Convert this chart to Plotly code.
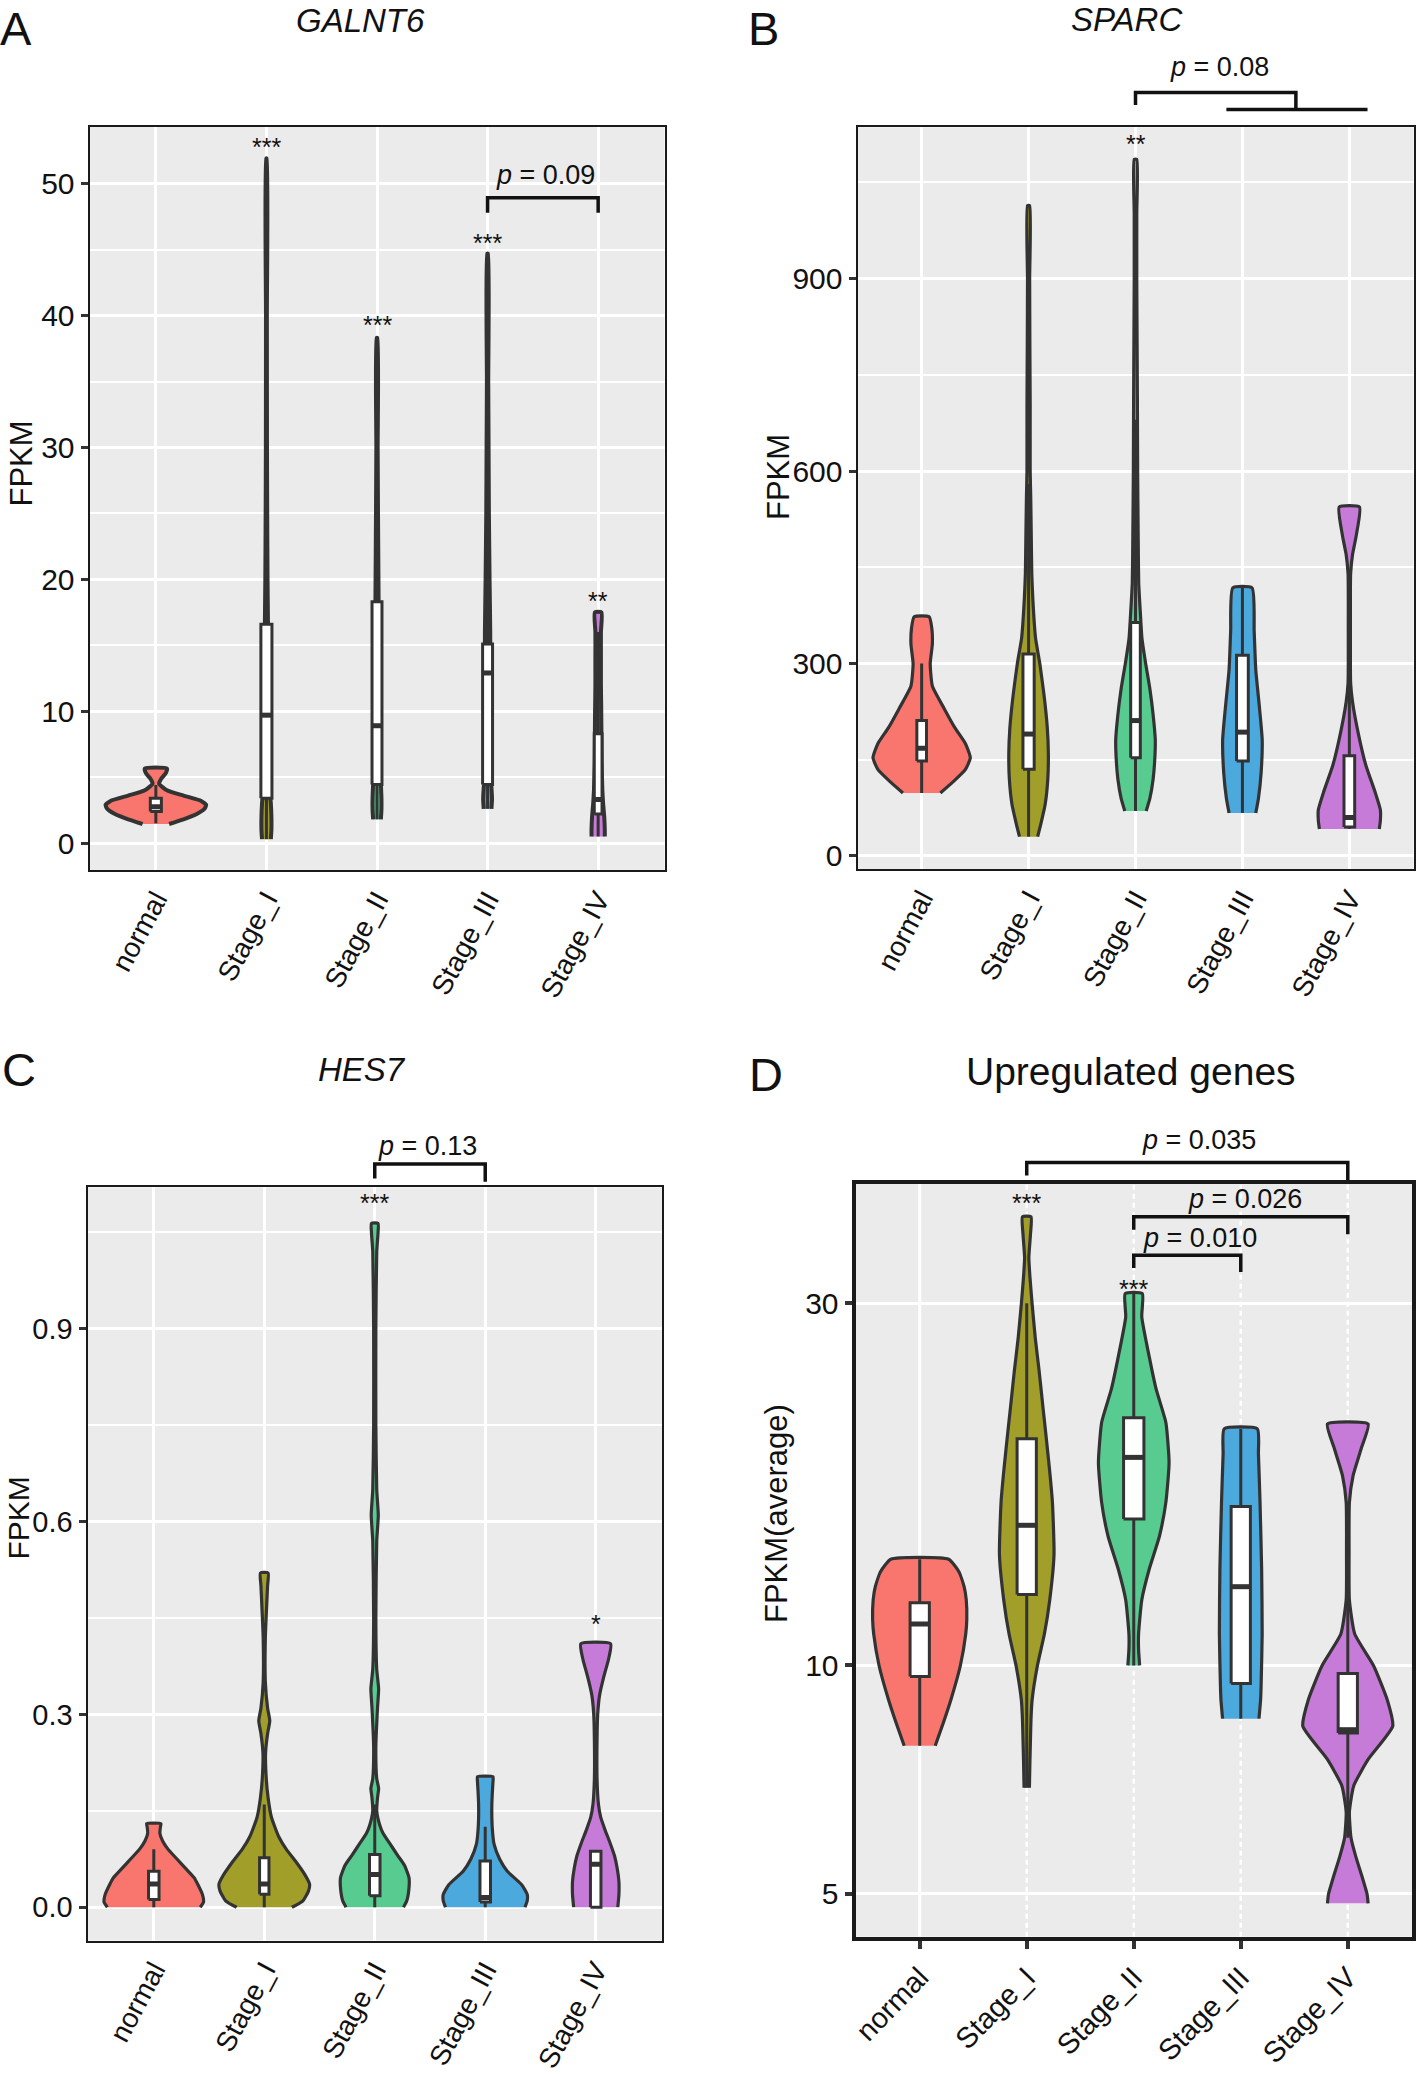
import math
import plotly.graph_objects as go

# ------------------------------------------------------------------ data
CATEGORIES = ["normal", "Stage_I", "Stage_II", "Stage_III", "Stage_IV"]
FILL_COLORS = ["#F8766D", "#A19E2A", "#58CC90", "#4CA9DE", "#C77BD9"]

# A: GALNT6 -- violin outline profiles (value, half-width in category units)
GALNT6_VIOLIN_Y = [
    [1.45, 1.8, 2.2, 2.6, 2.9, 3.2, 3.6, 4.0, 4.5, 4.9, 5.3, 5.66],
    [0.3, 1, 2, 3, 4, 6, 10, 15, 20, 25, 30, 40, 51.9],
    [1.8, 2.5, 3.5, 4.5, 6, 10, 15, 20, 25, 30, 38.3],
    [2.6, 3.3, 4.2, 5, 8, 12, 16, 20, 25, 30, 35, 44.7],
    [0.5, 1, 2, 3, 4, 6, 8, 10, 12, 14, 16, 17.5],
]
GALNT6_VIOLIN_W = [
    [0.12, 0.25, 0.37, 0.44, 0.455, 0.41, 0.25, 0.10, 0.03, 0.05, 0.09, 0.10],
    [0.04, 0.045, 0.045, 0.04, 0.03, 0.025, 0.02, 0.016, 0.01, 0.007, 0.005, 0.004, 0.003],
    [0.035, 0.04, 0.04, 0.035, 0.028, 0.022, 0.017, 0.013, 0.009, 0.006, 0.004],
    [0.035, 0.04, 0.035, 0.028, 0.024, 0.024, 0.024, 0.018, 0.012, 0.009, 0.006, 0.004],
    [0.06, 0.06, 0.055, 0.045, 0.038, 0.032, 0.03, 0.028, 0.025, 0.025, 0.025, 0.03],
]
GALNT6_Q1 = [2.4, 3.4, 4.45, 4.45, 2.2]
GALNT6_MEDIAN = [2.75, 9.7, 8.9, 12.9, 3.3]
GALNT6_Q3 = [3.4, 16.6, 18.3, 15.1, 8.3]
GALNT6_LOW = [1.5, 0.3, 1.8, 2.6, 0.5]
GALNT6_HIGH = [4.4, 36, 32, 30, 16]
GALNT6_BOX_W = [0.10, 0.10, 0.09, 0.09, 0.07]
GALNT6_STARS = [(1, 53.2, "***"), (2, 39.7, "***"), (3, 45.9, "***"), (4, 18.7, "**")]
GALNT6_BRACKETS = [(3, 4, 48.94, 47.8, 47.8, "0.09", 3.52, 50.63)]

# B: SPARC
SPARC_VIOLIN_Y = [
    [98, 115, 135, 153, 175, 200, 230, 265, 300, 330, 355, 373],
    [30, 50, 80, 120, 160, 200, 250, 300, 340, 400, 440, 500, 560, 600, 700, 800, 900, 1014],
    [70, 90, 120, 150, 181, 220, 260, 300, 340, 380, 425, 500, 600, 700, 800, 900, 1000, 1086],
    [67, 90, 130, 181, 230, 290, 350, 418],
    [42, 55, 72, 100, 141, 190, 240, 270, 350, 440, 470, 500, 544],
]
SPARC_VIOLIN_W = [
    [0.175, 0.29, 0.41, 0.455, 0.41, 0.31, 0.21, 0.10, 0.08, 0.10, 0.095, 0.07],
    [0.085, 0.115, 0.155, 0.18, 0.185, 0.175, 0.145, 0.105, 0.065, 0.04, 0.03, 0.025, 0.02, 0.015, 0.015, 0.012, 0.01, 0.01],
    [0.10, 0.135, 0.165, 0.18, 0.185, 0.165, 0.135, 0.095, 0.06, 0.045, 0.03, 0.025, 0.02, 0.018, 0.015, 0.012, 0.012, 0.012],
    [0.125, 0.15, 0.175, 0.185, 0.16, 0.125, 0.11, 0.09],
    [0.28, 0.29, 0.29, 0.24, 0.155, 0.085, 0.03, 0.012, 0.01, 0.012, 0.03, 0.065, 0.095],
]
SPARC_Q1 = [148, 135, 153, 148, 45]
SPARC_MEDIAN = [168, 190, 211, 193, 60]
SPARC_Q3 = [211, 315, 364, 313, 156]
SPARC_LOW = [98, 30, 70, 67, 42]
SPARC_HIGH = [300, 580, 680, 418, 290]
SPARC_BOX_W = [0.09, 0.105, 0.09, 0.11, 0.10]
SPARC_STARS = [(2, 1118, "**")]
SPARC_BRACKETS = [(2, 3.5, 1190.4, 1170.6, 1163.6, "0.08", 2.79, 1230.2)]
SPARC_GROUP_LINE = [(2.85, 4.17, 1163.6)]

# C: HES7
HES7_VIOLIN_Y = [
    [0, 0.008, 0.02, 0.035, 0.046, 0.06, 0.075, 0.09, 0.103, 0.115, 0.125, 0.13],
    [0, 0.01, 0.025, 0.036, 0.05, 0.07, 0.09, 0.11, 0.14, 0.17, 0.2, 0.24, 0.27, 0.29, 0.31, 0.35, 0.42, 0.5, 0.52],
    [0, 0.01, 0.03, 0.046, 0.065, 0.08, 0.098, 0.115, 0.128, 0.15, 0.17, 0.185, 0.2, 0.25, 0.31, 0.34, 0.37,
     0.45, 0.57, 0.61, 0.65, 0.75, 0.9, 1.02, 1.05, 1.064],
    [0, 0.01, 0.02, 0.035, 0.056, 0.075, 0.098, 0.12, 0.139, 0.16, 0.18, 0.195, 0.203],
    [0, 0.02, 0.04, 0.06, 0.08, 0.1, 0.12, 0.14, 0.16, 0.2, 0.26, 0.3, 0.33, 0.36, 0.385, 0.41],
]
HES7_VIOLIN_W = [
    [0.42, 0.45, 0.44, 0.40, 0.365, 0.29, 0.21, 0.13, 0.08, 0.055, 0.06, 0.065],
    [0.25, 0.35, 0.40, 0.41, 0.37, 0.29, 0.20, 0.13, 0.065, 0.035, 0.018, 0.012, 0.03, 0.05, 0.03, 0.01, 0.01, 0.03, 0.035],
    [0.26, 0.29, 0.31, 0.31, 0.27, 0.21, 0.14, 0.075, 0.045, 0.018, 0.025, 0.035, 0.018, 0.01, 0.025, 0.035, 0.018,
     0.01, 0.018, 0.032, 0.018, 0.01, 0.01, 0.018, 0.03, 0.03],
    [0.36, 0.38, 0.38, 0.33, 0.20, 0.13, 0.08, 0.065, 0.06, 0.06, 0.065, 0.07, 0.07],
    [0.20, 0.21, 0.21, 0.195, 0.17, 0.13, 0.085, 0.045, 0.025, 0.012, 0.012, 0.018, 0.035, 0.075, 0.115, 0.135],
]
HES7_Q1 = [0.012, 0.02, 0.018, 0.008, 0.0]
HES7_MEDIAN = [0.036, 0.036, 0.051, 0.015, 0.067]
HES7_Q3 = [0.056, 0.077, 0.082, 0.072, 0.087]
HES7_LOW = [0.0, 0.0, 0.0, 0.0, 0.0]
HES7_HIGH = [0.09, 0.16, 0.16, 0.125, 0.087]
HES7_BOX_W = [0.095, 0.085, 0.095, 0.095, 0.095]
HES7_STARS = [(2, 1.103, "***"), (4, 0.448, "*")]
HES7_BRACKETS = [(2, 3, 1.1564, 1.1338, 1.1287, "0.13", 2.48, 1.185)]

# D: Upregulated genes (log scale)
UP_VIOLIN_Y = [
    [7.84, 8.4, 9.0, 10.0, 11.0, 11.5, 12.2, 12.7, 13.3, 13.8],
    [6.9, 7.5, 8.0, 8.5, 9.0, 10.0, 11.0, 12.2, 14.0, 16.4, 18.0, 20.1, 22.0, 24.5, 27.0, 30.0, 32.5, 34.5, 37.0, 39.0],
    [10.0, 10.5, 11.0, 12.2, 13.4, 14.8, 16.4, 18.5, 20.9, 23.1, 25.5, 28.8, 30.9],
    [8.51, 9.0, 9.4, 11.0, 13.4, 16.4, 19.0, 20.5],
    [4.86, 5.0, 5.26, 5.6, 5.93, 6.41, 6.94, 7.52, 8.32, 9.0, 10.0, 11.0, 12.2, 14.0, 16.4, 17.8, 19.3, 20.8],
]
UP_VIOLIN_W = [
    [0.145, 0.22, 0.29, 0.38, 0.43, 0.44, 0.435, 0.415, 0.365, 0.27],
    [0.025, 0.03, 0.035, 0.04, 0.05, 0.10, 0.165, 0.215, 0.255, 0.24, 0.215, 0.18, 0.15, 0.115, 0.08, 0.05, 0.03, 0.02, 0.035, 0.04],
    [0.055, 0.045, 0.045, 0.075, 0.145, 0.24, 0.30, 0.33, 0.30, 0.21, 0.145, 0.075, 0.08],
    [0.17, 0.185, 0.19, 0.20, 0.195, 0.18, 0.165, 0.155],
    [0.19, 0.18, 0.135, 0.075, 0.03, 0.015, 0.055, 0.19, 0.42, 0.37, 0.24, 0.065, 0.015, 0.012, 0.015, 0.05, 0.125, 0.19],
]
UP_Q1 = [9.67, 12.4, 15.6, 9.47, 8.15]
UP_MEDIAN = [11.34, 15.3, 18.8, 12.7, 8.23]
UP_Q3 = [12.1, 19.9, 21.2, 16.2, 9.76]
UP_LOW = [7.84, 6.9, 10.0, 8.51, 5.93]
UP_HIGH = [13.8, 30.0, 30.9, 20.5, 12.2]
UP_BOX_W = [0.18, 0.18, 0.19, 0.18, 0.18]
UP_STARS = [(1, 41.3, "***"), (2, 31.8, "***")]
UP_BRACKETS = [(1, 4, 46.0, 44.2, 43.6, "0.035", 2.61, 49.2),
               (2, 4, 39.0, 37.5, 37.0, "0.026", 3.04, 41.2),
               (2, 3, 34.7, 33.4, 33.0, "0.010", 2.62, 36.6)]

# ------------------------------------------------------------------ layout helpers
W, H = 1416, 2074
FONT = "Liberation Sans, Arial, Helvetica, sans-serif"
OUTLINE = "#333333"
XRANGE = [-0.6, 4.6]


def dom_x(a, b):
    return [a / W, b / W]


def dom_y(top, bottom):
    return [1 - bottom / H, 1 - top / H]


PANELS = [
    dict(name="A", xa="x", ya="y", xdom=dom_x(89.5, 664.5), ydom=dom_y(127, 870),
         yrange=[-2.04, 54.3], log=False, tickvals=[0, 10, 20, 30, 40, 50], ticktext=None,
         minor=[5, 15, 25, 35, 45], border=2, angle=-62, xfont=28, vline=4.0, yfont=30,
         vy=GALNT6_VIOLIN_Y, vw=GALNT6_VIOLIN_W, q1=GALNT6_Q1, med=GALNT6_MEDIAN, q3=GALNT6_Q3,
         lo=GALNT6_LOW, hi=GALNT6_HIGH, bw=GALNT6_BOX_W, stars=GALNT6_STARS, brackets=GALNT6_BRACKETS),
    dict(name="B", xa="x2", ya="y2", xdom=dom_x(857.5, 1413.5), ydom=dom_y(127.3, 869),
         yrange=[-20.4, 1136], log=False, tickvals=[0, 300, 600, 900], ticktext=None,
         minor=[150, 450, 750, 1050], border=2, angle=-62, xfont=28, vline=3.2, yfont=30,
         vy=SPARC_VIOLIN_Y, vw=SPARC_VIOLIN_W, q1=SPARC_Q1, med=SPARC_MEDIAN, q3=SPARC_Q3,
         lo=SPARC_LOW, hi=SPARC_HIGH, bw=SPARC_BOX_W, stars=SPARC_STARS, brackets=SPARC_BRACKETS),
    dict(name="C", xa="x3", ya="y3", xdom=dom_x(87.5, 662), ydom=dom_y(1187.4, 1940.5),
         yrange=[-0.0518, 1.12], log=False, tickvals=[0, 0.3, 0.6, 0.9],
         ticktext=["0.0", "0.3", "0.6", "0.9"], minor=[0.15, 0.45, 0.75, 1.05], border=2,
         angle=-62, xfont=28, vline=3.2, yfont=29,
         vy=HES7_VIOLIN_Y, vw=HES7_VIOLIN_W, q1=HES7_Q1, med=HES7_MEDIAN, q3=HES7_Q3,
         lo=HES7_LOW, hi=HES7_HIGH, bw=HES7_BOX_W, stars=HES7_STARS, brackets=HES7_BRACKETS),
    dict(name="D", xa="x4", ya="y4", xdom=dom_x(855.5, 1412), ydom=dom_y(1184, 1936.7),
         yrange=[0.6427, 1.6343], log=True, tickvals=[5, 10, 30], ticktext=["5", "10", "30"],
         minor=None, border=4, angle=-46, xfont=29, vline=3.2, yfont=30,
         vy=UP_VIOLIN_Y, vw=UP_VIOLIN_W, q1=UP_Q1, med=UP_MEDIAN, q3=UP_Q3,
         lo=UP_LOW, hi=UP_HIGH, bw=UP_BOX_W, stars=UP_STARS, brackets=UP_BRACKETS),
]


def to_dom(v, p):
    r0, r1 = p["yrange"]
    if p["log"]:
        v = math.log10(v)
    return (v - r0) / (r1 - r0)


def xdom_of(c):
    return (c - XRANGE[0]) / (XRANGE[1] - XRANGE[0])


def line_trace(xs, ys, xa, ya, width=3.0, fill=None, fillcolor=None, shape="linear"):
    return go.Scatter(x=xs, y=ys, mode="lines", fill=fill, fillcolor=fillcolor,
                      line=dict(color=OUTLINE, width=width, shape=shape, smoothing=0.5),
                      xaxis=xa, yaxis=ya, hoverinfo="skip", showlegend=False)


fig = go.Figure()
shapes = []
annotations = []
layout_axes = {}

for p in PANELS:
    xa, ya = p["xa"], p["ya"]
    is_d = p["name"] == "D"
    # violins (outline profiles)
    for i in range(len(CATEGORIES)):
        ys = p["vy"][i]
        ws = p["vw"][i]
        xs = [i - w for w in ws] + [i + w for w in reversed(ws)]
        yy = list(ys) + list(reversed(ys))
        fig.add_trace(line_trace(xs, yy, xa, ya, width=p["vline"], fill="toself",
                                 fillcolor=FILL_COLORS[i], shape="spline"))
    # boxplots (whiskers, white box, median) drawn on top of the violins
    for i in range(len(CATEGORIES)):
        hw = p["bw"][i] / 2
        q1, med, q3 = p["q1"][i], p["med"][i], p["q3"][i]
        lo, hi = p["lo"][i], p["hi"][i]
        fig.add_trace(line_trace([i, i, None, i, i], [lo, q1, None, q3, hi], xa, ya, width=3))
        fig.add_trace(line_trace([i - hw, i + hw, i + hw, i - hw, i - hw], [q1, q1, q3, q3, q1],
                                 xa, ya, width=3, fill="toself", fillcolor="white"))
        fig.add_trace(line_trace([i - hw, i + hw], [med, med], xa, ya, width=5))

    xkey = "xaxis" + xa[1:]
    ykey = "yaxis" + ya[1:]
    layout_axes[xkey] = dict(
        domain=p["xdom"], range=XRANGE, anchor=ya, tickmode="array", automargin=False,
        tickvals=list(range(len(CATEGORIES))), ticktext=CATEGORIES, tickangle=p["angle"],
        showgrid=not is_d, gridcolor="white", gridwidth=3, zeroline=False,
        showline=True, mirror=True, linecolor="#1a1a1a", linewidth=p["border"],
        ticks="outside" if is_d else "", ticklen=8, tickwidth=3.5, tickcolor=OUTLINE,
        tickfont=dict(family=FONT, size=p["xfont"], color="#111111"),
    )
    yax = dict(
        domain=p["ydom"], range=p["yrange"], anchor=xa, tickmode="array", automargin=False,
        tickvals=p["tickvals"], showgrid=True, gridcolor="white", gridwidth=3,
        zeroline=False, showline=True, mirror=True, linecolor="#1a1a1a",
        linewidth=p["border"], ticks="outside", ticklen=7,
        tickwidth=3.5 if is_d else 2.5, tickcolor=OUTLINE,
        tickfont=dict(family=FONT, size=p["yfont"], color="#111111"),
    )
    if p["ticktext"] is not None:
        yax["ticktext"] = p["ticktext"]
    if p["log"]:
        yax["type"] = "log"
    if p["minor"] is not None:
        yax["minor"] = dict(tickmode="array", tickvals=p["minor"], showgrid=True,
                            gridcolor="white", gridwidth=1.5, ticks="")
    layout_axes[ykey] = yax

    # panel D: vertical grid lines ("normal" solid, stages dashed)
    if is_d:
        x0p, x1p = p["xdom"]
        for i in range(len(CATEGORIES)):
            xp = x0p + xdom_of(i) * (x1p - x0p)
            shapes.append(dict(type="line", xref="paper", yref="paper", x0=xp, x1=xp,
                               y0=p["ydom"][0], y1=p["ydom"][1], layer="below",
                               line=dict(color="white", width=3 if i == 0 else 2.5,
                                         dash="solid" if i == 0 else "5px,4px")))

    # significance stars
    for (c, v, txt) in p["stars"]:
        annotations.append(dict(
            xref=xa + " domain", yref=ya + " domain", x=xdom_of(c), y=to_dom(v, p),
            text=txt, showarrow=False, xanchor="center", yanchor="middle", yshift=-5,
            font=dict(family=FONT, size=25, color="#111111")))

    # comparison brackets
    for (cl, cr, ybar, yl, yr, lab, lx, ly) in p["brackets"]:
        path = "M {},{} L {},{} L {},{} L {},{}".format(
            xdom_of(cl), to_dom(yl, p), xdom_of(cl), to_dom(ybar, p),
            xdom_of(cr), to_dom(ybar, p), xdom_of(cr), to_dom(yr, p))
        shapes.append(dict(type="path", path=path, xref=xa + " domain", yref=ya + " domain",
                           line=dict(color="#111111", width=3.5), layer="above"))
        annotations.append(dict(
            xref=xa + " domain", yref=ya + " domain", x=xdom_of(lx), y=to_dom(ly, p),
            text="<i>p</i> = " + lab, showarrow=False, xanchor="center", yanchor="middle",
            font=dict(family=FONT, size=27, color="#111111")))

# SPARC group line under the bracket (Stage_III + Stage_IV)
pB = PANELS[1]
for (g0, g1, gy) in SPARC_GROUP_LINE:
    shapes.append(dict(type="line", xref="x2 domain", yref="y2 domain",
                       x0=xdom_of(g0), x1=xdom_of(g1), y0=to_dom(gy, pB), y1=to_dom(gy, pB),
                       line=dict(color="#111111", width=3.5), layer="above"))


def paper_ann(x, y, text, size, angle=0, italic=False, yanchor="middle"):
    t = "<i>" + text + "</i>" if italic else text
    annotations.append(dict(xref="paper", yref="paper", x=x / W, y=1 - y / H, text=t,
                            showarrow=False, xanchor="center", yanchor=yanchor,
                            textangle=angle, font=dict(family=FONT, size=size, color="#111111")))


# panel letters
paper_ann(16, 0, "A", 47, yanchor="top")
paper_ann(763, 0, "B", 47, yanchor="top")
paper_ann(19, 1069.5, "C", 47)
paper_ann(766, 1074, "D", 47)
# panel titles
paper_ann(360.5, 21, "GALNT6", 33, italic=True)
paper_ann(1127, 20, "SPARC", 33, italic=True)
paper_ann(361.6, 1069, "HES7", 33, italic=True)
paper_ann(1131, 1071.5, "Upregulated genes", 39)
# axis titles
paper_ann(20.5, 464, "FPKM", 31, angle=-90)
paper_ann(778, 477, "FPKM", 31, angle=-90)
paper_ann(17.5, 1518, "FPKM", 30, angle=-90)
paper_ann(776, 1513, "FPKM(average)", 31, angle=-90)

fig.update_layout(
    width=W, height=H, margin=dict(l=0, r=0, t=0, b=0, pad=0, autoexpand=False),
    paper_bgcolor="white", plot_bgcolor="#EBEBEB", showlegend=False,
    font=dict(family=FONT, color="#111111"),
    shapes=shapes, annotations=annotations,
    **layout_axes,
)

fig.write_html("out.html", config={"displayModeBar": False, "responsive": False},
               post_script="document.body.style.margin='0';")
